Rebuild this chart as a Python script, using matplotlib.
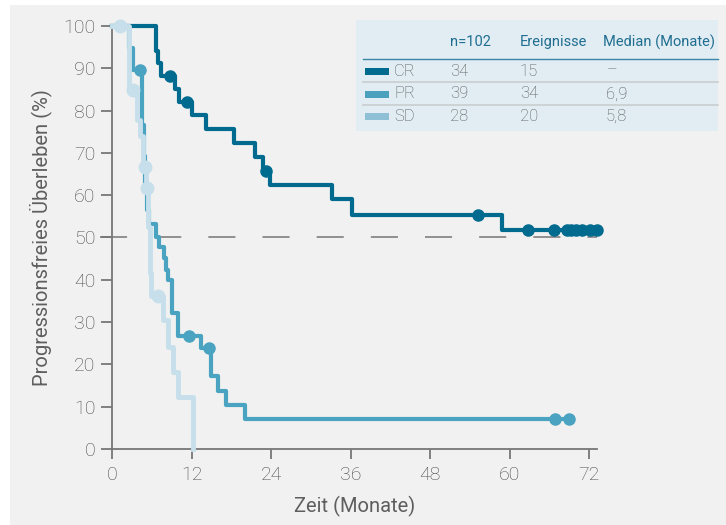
import matplotlib
matplotlib.use("Agg")
from matplotlib import pyplot as plt
from matplotlib.patches import Rectangle
from matplotlib.lines import Line2D

plt.rcParams['font.family'] = ['Roboto', 'DejaVu Sans']
plt.rcParams['font.weight'] = 'light'

# Kaplan-Meier step data (time in months, PFS in %)
cr_t = [0, 6.6, 7.0, 7.4, 9.5, 10.1, 12.1, 14.2, 18.4, 21.6, 22.8, 23.8, 33.2, 36.2, 58.8, 73.2]
cr_s = [100, 94.1, 91.2, 88.2, 85.1, 82.1, 78.9, 75.6, 72.3, 69.1, 65.8, 62.4, 59.1, 55.3, 51.8, 51.8]
cr_cens_t = [8.7, 11.3, 23.3, 55.2, 62.8, 66.7, 68.6, 69.3, 70.1, 71.0, 72.1, 73.2]
cr_cens_s = [88.2, 82.1, 65.8, 55.3, 51.8, 51.8, 51.8, 51.8, 51.8, 51.8, 51.8, 51.8]

pr_t = [0, 2.5, 3.1, 4.6, 4.8, 5.0, 5.3, 5.6, 6.7, 7.1, 7.8, 8.2, 8.5, 9.0, 10.0, 13.4, 14.95, 15.95, 17.2, 20.1, 69.0]
pr_s = [100, 94.9, 89.7, 76.6, 69.2, 61.5, 56.4, 53.2, 50.2, 47.7, 45.1, 42.3, 40.0, 32.1, 26.7, 23.9, 17.3, 13.7, 10.5, 7.1, 7.1]
pr_cens_t = [4.3, 11.6, 14.7, 66.9, 69.0]
pr_cens_s = [89.7, 26.7, 23.9, 7.1, 7.1]

sd_t = [0, 2.55, 3.8, 4.2, 4.7, 5.1, 5.4, 5.7, 5.95, 7.65, 8.5, 9.25, 9.9, 12.2]
sd_s = [100, 84.9, 77.8, 74.1, 66.6, 61.8, 52.4, 41.5, 36.2, 30.5, 24.2, 18.3, 12.4, 0]
sd_cens_t = [1.2, 3.2, 5.0, 5.3, 7.0]
sd_cens_s = [100, 84.9, 66.6, 61.8, 36.2]

groups = ['CR', 'PR', 'SD']
n_pat = ['34', '39', '28']
events = ['15', '34', '20']
median = ['\u2013', '6,9', '5,8']
line_cols = ['#006b8f', '#4aa3c1', '#c6dfeb']
swatch_cols = ['#006b8f', '#4aa0bd', '#8fc0d6']

W, H = 726, 525
fig = plt.figure(figsize=(W / 100, H / 100), dpi=100, facecolor='white')
fig.patches.append(Rectangle((10 / W, 0), 1 - 10 / W, (H - 5) / H, transform=fig.transFigure,
                             facecolor='#f0f1f0', edgecolor='none', zorder=-5))

ax = fig.add_axes([112 / W, (H - 449) / H, (597 - 112) / W, (449 - 26) / H])
ax.set_zorder(3)
ax.set_facecolor('none')
ax.set_xlim(0, 73.2)
ax.set_ylim(0, 100)

axc = '#777777'
for sp in ['top', 'right']:
    ax.spines[sp].set_visible(False)
for sp in ['left', 'bottom']:
    ax.spines[sp].set_color(axc)
    ax.spines[sp].set_linewidth(1.3)

ax.set_xticks([0, 12, 24, 36, 48, 60, 72])
ax.set_yticks(range(0, 101, 10))
ax.tick_params(axis='y', length=8, width=1.3, color=axc, labelsize=14, labelcolor='#4a4a4a', pad=4)
ax.tick_params(axis='x', length=7, width=1.3, color=axc, labelsize=14, labelcolor='#4a4a4a', pad=5)

# median reference line
ax.axhline(50, xmin=-0.025, color='#888888', lw=1.3, dashes=(15, 15), clip_on=False, zorder=1)

# curves: CR, PR, SD (SD on top)
ax.step(cr_t, cr_s, where='post', color=line_cols[0], lw=3.0, clip_on=False, zorder=3)
ax.plot(cr_cens_t, cr_cens_s, 'o', color=line_cols[0], ms=8, clip_on=False, zorder=3)
ax.step(pr_t, pr_s, where='post', color=line_cols[1], lw=3.0, clip_on=False, zorder=4)
ax.plot(pr_cens_t, pr_cens_s, 'o', color=line_cols[1], ms=8, clip_on=False, zorder=4)
ax.step(sd_t, sd_s, where='post', color=line_cols[2], lw=3.5, clip_on=False, zorder=5)
ax.plot(sd_cens_t, sd_cens_s, 'o', color=line_cols[2], ms=9, clip_on=False, zorder=5)

ax.set_xlabel('Zeit (Monate)', fontsize=14.5, color='#5e5e5e', labelpad=9)
ax.set_ylabel('Progressionsfreies \u00dcberleben (%)', fontsize=14.5, color='#5e5e5e', labelpad=8)

# table in the upper right
def fx(px):
    return px / W

def fy(py):
    return 1 - py / H

fig.patches.append(Rectangle((fx(356), fy(131)), fx(718) - fx(356), fy(20) - fy(131),
                             transform=fig.transFigure, facecolor='#e1ecf3', edgecolor='none', zorder=1))
head_col = '#1f6e90'
body_col = '#5a5a5a'
for txt, x in zip(['n=102', 'Ereignisse', 'Median (Monate)'], [450, 520, 603]):
    fig.text(fx(x), fy(42), txt, fontsize=10.5, color=head_col, fontweight='normal',
             va='center', ha='left', zorder=2)
fig.add_artist(Line2D([fx(363), fx(718)], [fy(59), fy(59)], transform=fig.transFigure,
                      color='#3d86a6', lw=1.0, zorder=2))
row_y = [71, 94, 116.5]
for i, g in enumerate(groups):
    y = row_y[i]
    fig.patches.append(Rectangle((fx(365), fy(y + 3.5)), fx(389) - fx(365), fy(y - 3.5) - fy(y + 3.5),
                                 transform=fig.transFigure, facecolor=swatch_cols[i], edgecolor='none', zorder=2))
    fig.text(fx(394), fy(y), g, fontsize=12, color=body_col, va='center', ha='left', zorder=2)
    fig.text(fx(450), fy(y), n_pat[i], fontsize=12, color=body_col, va='center', ha='left', zorder=2)
    fig.text(fx(520), fy(y), events[i], fontsize=12, color=body_col, va='center', ha='left', zorder=2)
    if median[i] == '\u2013':
        fig.text(fx(612), fy(y), median[i], fontsize=12, color=body_col, va='center', ha='center', zorder=2)
    else:
        fig.text(fx(606), fy(y), median[i], fontsize=12, color=body_col, va='center', ha='left', zorder=2)
for y in [82, 104.5]:
    fig.add_artist(Line2D([fx(363), fx(718)], [fy(y), fy(y)], transform=fig.transFigure,
                          color='#c9cdd0', lw=1.2, zorder=2))

fig.savefig('out.png', dpi=100, facecolor=fig.get_facecolor())
